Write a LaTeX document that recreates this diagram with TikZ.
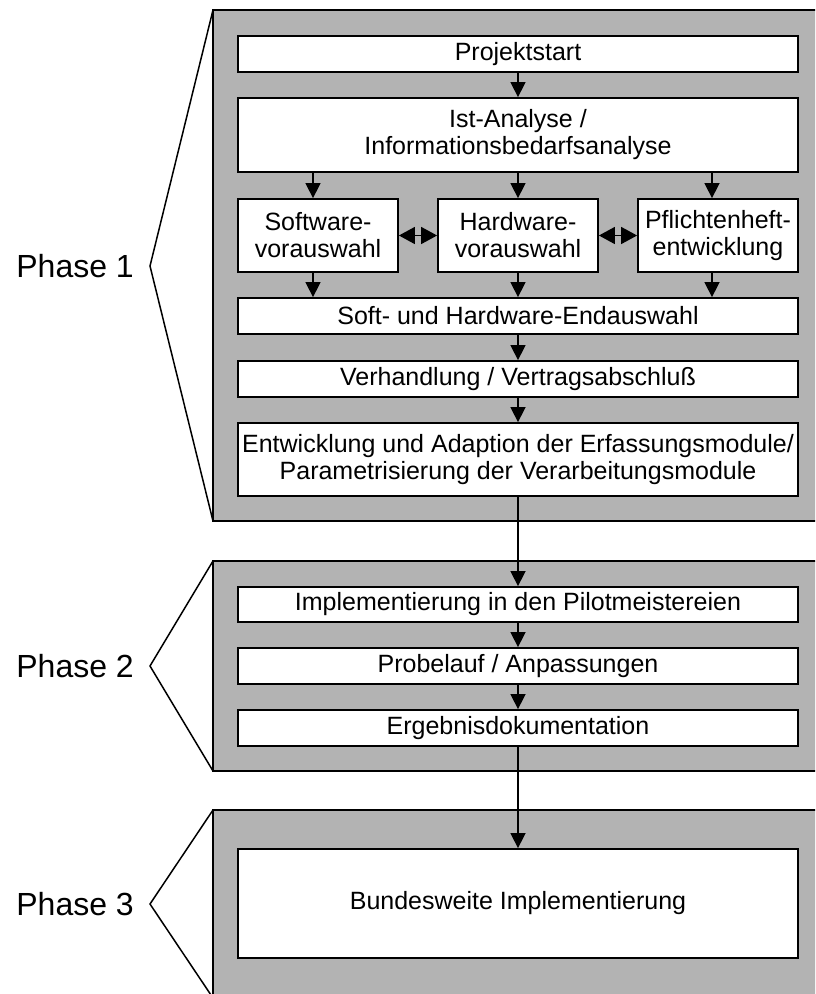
\documentclass[tikz,border=0pt]{standalone}
\usepackage{fontspec}
\setmainfont{Liberation Sans}
\usetikzlibrary{arrows.meta,calc}

\definecolor{panelgray}{RGB}{179,179,179}

\tikzset{
  panel/.style={draw=black, line width=2pt, fill=panelgray},
  stepbox/.style={draw=black, line width=1.8pt, fill=white, align=center,
    inner sep=0pt, font=\fontsize{25}{27}\selectfont},
  bracket/.style={draw=black, line width=1.5pt, line join=miter},
  phaselabel/.style={anchor=east, inner sep=0pt, font=\fontsize{32}{36}\selectfont},
  flow/.style={draw=black, line width=1.5pt, -{Triangle[length=15pt,width=15pt]}},
  twoway/.style={draw=black, line width=1.5pt,
    {Triangle[length=16pt,width=17pt]}-{Triangle[length=16pt,width=17pt]}}
}

\begin{document}
\begin{tikzpicture}[x=1pt,y=-1pt]
  \useasboundingbox (0,0) rectangle (815,994);
  \clip (0,0) rectangle (815,994);

  % phase panels (running past the right and bottom edges)
  \path[panel] (213,10) rectangle (840,521);
  \path[panel] (213,561) rectangle (840,771);
  \path[panel] (213,810) rectangle (840,1010);

  % angle brackets in front of the panels
  \draw[bracket] (213,10) -- (150,266) -- (213,521);
  \draw[bracket] (213,561) -- (150,666) -- (213,771);
  \draw[bracket] (213,810) -- (150,904) -- (213,998);

  \node[phaselabel] (ph1) at (134,266) {Phase 1};
  \node[phaselabel] (ph2) at (134,666) {Phase 2};
  \node[phaselabel] (ph3) at (134,904) {Phase 3};

  % phase 1
  \node[stepbox, minimum width=560pt, minimum height=36pt] (start) at (518,54) {Projektstart};
  \node[stepbox, minimum width=560pt, minimum height=74pt] (ist) at (518,135)
    {Ist-Analyse /\\Informationsbedarfsanalyse};
  \node[stepbox, minimum width=160pt, minimum height=73pt] (sw) at (318,235.5)
    {Software-\\vorauswahl};
  \node[stepbox, minimum width=160pt, minimum height=73pt] (hw) at (518,235.5)
    {Hardware-\\vorauswahl};
  \node[stepbox, minimum width=160pt, minimum height=73pt] (pf) at (718,235.5)
    {Pflichtenheft-\\entwicklung};
  \node[stepbox, minimum width=560pt, minimum height=36pt] (endw) at (518,316)
    {Soft- und Hardware-Endauswahl};
  \node[stepbox, minimum width=560pt, minimum height=36pt] (verh) at (518,379)
    {Verhandlung / Vertragsabschluß};
  \node[stepbox, minimum width=560pt, minimum height=73pt] (entw) at (518,459.5)
    {Entwicklung und Adaption der Erfassungsmodule/\\Parametrisierung der Verarbeitungsmodule};

  % phase 2
  \node[stepbox, minimum width=560pt, minimum height=35pt] (impl) at (518,604.5)
    {Implementierung in den Pilotmeistereien};
  \node[stepbox, minimum width=560pt, minimum height=36pt] (probe) at (518,666)
    {Probelauf / Anpassungen};
  \node[stepbox, minimum width=560pt, minimum height=36pt] (erg) at (518,728)
    {Ergebnisdokumentation};

  % phase 3
  \node[stepbox, minimum width=560pt, minimum height=109pt] (bund) at (518,903.5)
    {Bundesweite Implementierung};

  % connectors
  \draw[flow] (start) -- (ist);
  \draw[flow] ([xshift=-5pt]sw.north |- ist.south) -- ([xshift=-5pt]sw.north);
  \draw[flow] (ist) -- (hw);
  \draw[flow] ([xshift=-6pt]pf.north |- ist.south) -- ([xshift=-6pt]pf.north);
  \draw[twoway] (sw) -- (hw);
  \draw[twoway] (hw) -- (pf);
  \draw[flow] ([xshift=-5pt]sw.south) -- ([xshift=-5pt]sw.south |- endw.north);
  \draw[flow] (hw) -- (endw);
  \draw[flow] ([xshift=-6pt]pf.south) -- ([xshift=-6pt]pf.south |- endw.north);
  \draw[flow] (endw) -- (verh);
  \draw[flow] (verh) -- (entw);
  \draw[flow] (entw) -- (impl);
  \draw[flow] (impl) -- (probe);
  \draw[flow] (probe) -- (erg);
  \draw[flow] (erg) -- (bund);
\end{tikzpicture}
\end{document}
